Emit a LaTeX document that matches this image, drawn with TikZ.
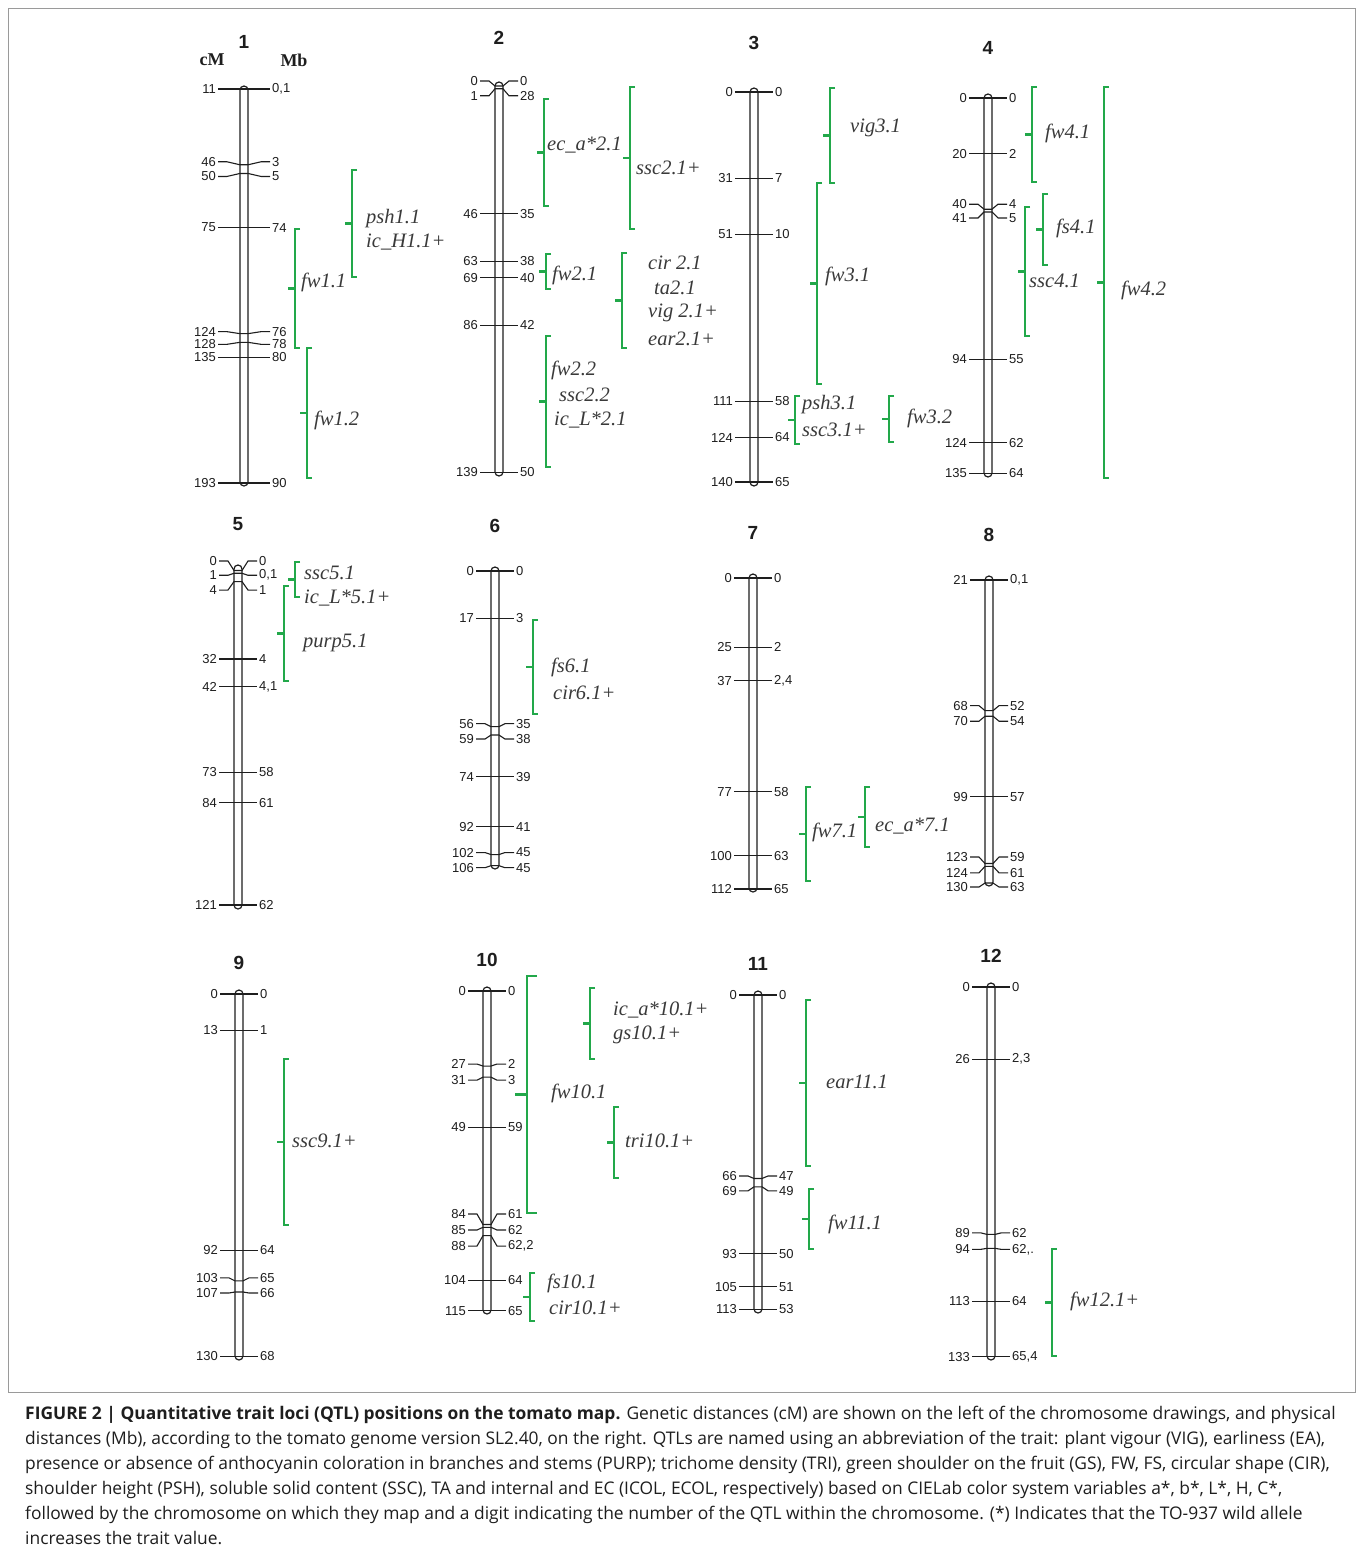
\documentclass[tikz,border=0pt]{standalone}
\usepackage{fontspec}
\setmainfont{Liberation Serif}
\setsansfont{Liberation Sans}
\newfontfamily\capfont{Open Sans}
\usetikzlibrary{positioning}
\definecolor{qtlgreen}{HTML}{22A84A}
\definecolor{qtlink}{HTML}{3A3A3A}
\definecolor{mapink}{HTML}{1E1E1E}
\definecolor{framegray}{HTML}{9A9A9A}
\def\marklen{19}
% chromosome: name, x, y of 0 cM, px per cM, title y, top, bottom, cM/Mb/label shift
\newcommand{\chrom}[8]{%
  \begin{scope}[shift={(#2,0)}]
    \node[chnum] (ch#1) at (0,#5) {#1};
    \draw[chromo] (-4,#6) rectangle (4,#7);
    \foreach \cm/\mb/\dy [count=\n] in {#8} {
      \pgfmathsetmacro\yc{#3+#4*\cm}
      \pgfmathsetmacro\yl{\yc+\dy}
      \draw[mk] (-\marklen,\yl) -- (-\marklen+9,\yl) -- (-4,\yc) -- (4,\yc)
        -- (\marklen-9,\yl) -- (\marklen,\yl);
      \node[cml] (ch#1-L\n) at (-\marklen-1,\yl) {\cm};
      \node[mbl] (ch#1-R\n) at (\marklen+1,\yl) {\mb};
    }
  \end{scope}}
% QTL bracket: [serif] x, top, bottom
\newcommand{\qtlbar}[4][5]{%
  \draw[qtl] (#2+#1,#3) -- (#2,#3) -- (#2,#4) -- (#2+#1,#4);
  \draw[qtl] (#2,{(#3+#4)/2}) -- (#2-#1-2,{(#3+#4)/2});}

\begin{document}
\begin{tikzpicture}[x=1pt,y=-1pt,line join=miter,
  chromo/.style={draw=mapink,line width=1.2pt,rounded corners=4pt},
  mk/.style={draw=mapink,line width=1.1pt},
  cml/.style={anchor=east,inner sep=1pt,font=\sffamily\fontsize{13}{13}\selectfont,text=mapink},
  mbl/.style={anchor=west,inner sep=1pt,font=\sffamily\fontsize{13}{13}\selectfont,text=mapink},
  chnum/.style={font=\sffamily\bfseries\fontsize{19}{20}\selectfont,text=mapink},
  unit/.style={font=\bfseries\fontsize{18}{18}\selectfont,text=mapink},
  qtl/.style={draw=qtlgreen,line width=2.5pt},
  qname/.style={anchor=west,inner sep=0pt,font=\itshape\fontsize{20.5}{20}\selectfont,text=qtlink}]
\path[use as bounding box] (0,0) rectangle (1360,1552);
\fill[white] (0,0) rectangle (1360,1552);
\draw[framegray,line width=1pt] (8.5,8.5) rectangle (1355.5,1392);

% row 1: chromosomes 1-4
\node[unit] (cmhead) at (212,60) {cM};
\node[unit] (mbhead) at (294,60) {Mb};
\def\marklen{26}
\chrom{1}{244}{65.2}{2.165}{42}{86}{486}{11/{0,1}/0, 46/3/-3, 50/5/3, 75/74/0, 124/76/-2, 128/78/2, 135/80/0, 193/90/0}
\def\marklen{19}
\chrom{2}{499}{86}{2.78}{38}{82}{476}{0/0/-5, 1/28/7, 46/35/0, 63/38/0, 69/40/0, 86/42/0, 139/50/0}
\chrom{3}{754}{92}{2.786}{43}{88}{486}{0/0/0, 31/7/0, 51/10/0, 111/58/0, 124/64/0, 140/65/0}
\chrom{4}{988}{98}{2.78}{48}{94}{477}{0/0/0, 20/2/0, 40/4/-5, 41/5/6, 94/55/0, 124/62/0, 135/64/0}

% QTLs on 1
\qtlbar{352}{170}{277}
\node[qname] (psh11) at (366,219) {psh1.1};
\node[qname] (icH11) at (366,242) {ic\_H1.1+};
\qtlbar{295}{229}{348}
\node[qname] (fw11) at (301,282) {fw1.1};
\qtlbar{307}{348}{478}
\node[qname] (fw12) at (314,420) {fw1.2};
% QTLs on 2
\qtlbar{544}{99}{206}
\node[qname] (eca21) at (547,145) {ec\_a*2.1};
\qtlbar{630}{87}{229}
\node[qname] (ssc21) at (636,168) {ssc2.1+};
\qtlbar{546}{254}{289}
\node[qname] (fw21) at (552,275) {fw2.1};
\qtlbar{622}{253}{348}
\node[qname] (cir21) at (648,263) {cir 2.1};
\node[qname] (ta21) at (654,288) {ta2.1};
\node[qname] (vig21) at (648,313) {vig 2.1+};
\node[qname] (ear21) at (648,339) {ear2.1+};
\qtlbar{546}{336}{467}
\node[qname] (fw22) at (551,370) {fw2.2};
\node[qname] (ssc22) at (559,395) {ssc2.2};
\node[qname] (icL21) at (554,420) {ic\_L*2.1};
% QTLs on 3
\qtlbar{830}{88}{183}
\node[qname] (vig31) at (850,128) {vig3.1};
\qtlbar{817}{183}{384}
\node[qname] (fw31) at (825,276) {fw3.1};
\qtlbar{795}{396}{444}
\node[qname] (psh31) at (802,405) {psh3.1};
\node[qname] (ssc31) at (802,430) {ssc3.1+};
\qtlbar{889}{396}{442}
\node[qname] (fw32) at (907,418) {fw3.2};
% QTLs on 4
\qtlbar{1032}{87}{182}
\node[qname] (fw41) at (1045,133) {fw4.1};
\qtlbar{1043}{194}{265}
\node[qname] (fs41) at (1056,228) {fs4.1};
\qtlbar{1025}{207}{336}
\node[qname] (ssc41) at (1029,281) {ssc4.1};
\qtlbar{1104}{87}{478}
\node[qname] (fw42) at (1121,290) {fw4.2};

% row 2: chromosomes 5-8
\chrom{5}{238}{570.5}{2.764}{524}{565}{909}{0/0/-9.5, 1/{0,1}/2, 4/1/8.5, 32/4/0, 42/{4,1}/0, 73/58/0, 84/61/0, 121/62/0}
\chrom{6}{495}{571}{2.78}{526}{567}{869}{0/0/0, 17/3/0, 56/35/-3, 59/38/4, 74/39/0, 92/41/0, 102/45/-2, 106/45/2}
\chrom{7}{753}{578}{2.777}{533}{574}{892}{0/0/0, 25/2/0, 37/{2,4}/0, 77/58/0, 100/63/0, 112/65/0}
\chrom{8}{989}{521.6}{2.78}{535}{576}{886}{21/{0,1}/0, 68/52/-5, 70/54/5, 99/57/0, 123/59/-6.5, 124/61/6.5, 130/63/4}

\qtlbar{295}{562}{597}
\node[qname] (ssc51) at (304,573) {ssc5.1};
\node[qname] (icL51) at (304,598) {ic\_L*5.1+};
\qtlbar{284}{586}{681}
\node[qname] (purp51) at (303,643) {purp5.1};
\qtlbar{533}{620}{714}
\node[qname] (fs61) at (551,667) {fs6.1};
\node[qname] (cir61) at (553,693) {cir6.1+};
\qtlbar{806}{787}{881}
\node[qname] (fw71) at (812,832) {fw7.1};
\qtlbar{865}{787}{847}
\node[qname] (eca71) at (875,826) {ec\_a*7.1};

% row 3: chromosomes 9-12
\chrom{9}{239}{994}{2.785}{963}{990}{1360}{0/0/0, 13/1/0, 92/64/0, 103/65/-3, 107/66/1, 130/68/0}
\chrom{10}{487}{991}{2.78}{960}{987}{1314}{0/0/0, 27/2/-2, 31/3/3, 49/59/0, 84/61/-10.5, 85/62/2.7, 88/{62,2}/10.4, 104/64/0, 115/65/0}
\chrom{11}{758}{995}{2.78}{964}{991}{1313}{0/0/0, 66/47/-2.5, 69/49/4, 93/50/0, 105/51/0, 113/53/0}
\chrom{12}{991}{987}{2.78}{956}{983}{1360}{0/0/0, 26/{2,3}/0, 89/62/-1.5, 94/{62,.}/1, 113/64/0, 133/{65,4}/0}

\qtlbar{284}{1059}{1225}
\node[qname] (ssc91) at (292,1141) {ssc9.1+};
\qtlbar[10]{527}{976}{1213}
\node[qname] (fw101) at (551,1093) {fw10.1};
\qtlbar{590}{988}{1059}
\node[qname] (ica101) at (613,1010) {ic\_a*10.1+};
\node[qname] (gs101) at (613,1035) {gs10.1+};
\qtlbar{614}{1107}{1178}
\node[qname] (tri101) at (625,1141) {tri10.1+};
\qtlbar{530}{1273}{1321}
\node[qname] (fs101) at (547,1283) {fs10.1};
\node[qname] (cir101) at (549,1308) {cir10.1+};
\qtlbar{806}{1000}{1166}
\node[qname] (ear111) at (826,1082) {ear11.1};
\qtlbar{809}{1189}{1249}
\node[qname] (fw111) at (828,1224) {fw11.1};
\qtlbar{1052}{1249}{1356}
\node[qname] (fw121) at (1070,1301) {fw12.1+};

% caption
\node[anchor=north west,inner sep=0pt,align=left,text=mapink,
  font=\capfont\fontsize{17.4}{25}\selectfont] (caption) at (25,1406)
  {\textbf{FIGURE 2 | Quantitative trait loci (QTL) positions on the tomato map.} Genetic distances (cM) are shown on the left of the chromosome drawings, and physical\\
   distances (Mb), according to the tomato genome version SL2.40, on the right. QTLs are named using an abbreviation of the trait: plant vigour (VIG), earliness (EA),\\
   presence or absence of anthocyanin coloration in branches and stems (PURP); trichome density (TRI), green shoulder on the fruit (GS), FW, FS, circular shape (CIR),\\
   shoulder height (PSH), soluble solid content (SSC), TA and internal and EC (ICOL, ECOL, respectively) based on CIELab color system variables a*, b*, L*, H, C*,\\
   followed by the chromosome on which they map and a digit indicating the number of the QTL within the chromosome. (*) Indicates that the TO-937 wild allele\\
   increases the trait value.};
\end{tikzpicture}
\end{document}
